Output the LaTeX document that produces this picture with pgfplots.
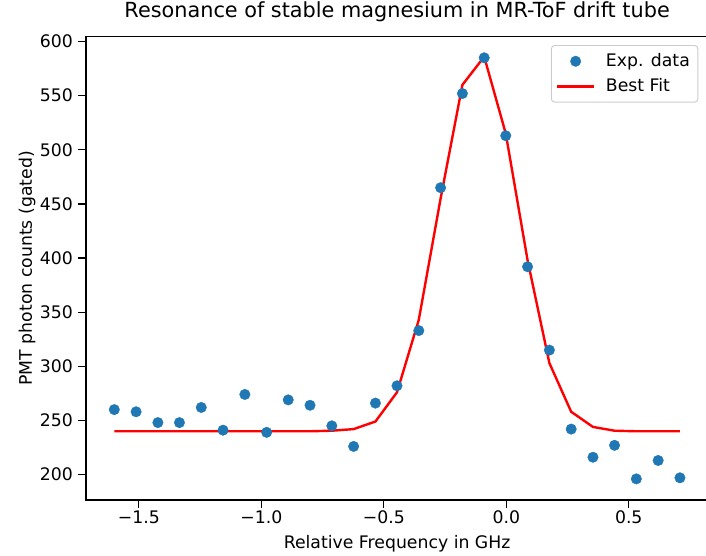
\documentclass[border=0pt]{standalone}
\usepackage{pgfplots}
\pgfplotsset{compat=1.18}
\usepackage{fontspec}
\setmainfont{DejaVu Sans}
\definecolor{tabblue}{HTML}{1F77B4}
\definecolor{legframe}{HTML}{CCCCCC}
\begin{document}
\begin{tikzpicture}
\begin{axis}[
  at={(0,0)}, anchor=south west,
  scale only axis,
  width=388.9pt, height=289.56pt,
  xmin=-1.7155, xmax=0.8245,
  ymin=176.5, ymax=604.5,
  axis line style={black, line width=0.8pt},
  tick style={black, line width=0.8pt},
  major tick length=5pt,
  tick align=outside,
  xtick pos=bottom, ytick pos=left,
  xtick={-1.5,-1.0,-0.5,0.0,0.5},
  xticklabels={−1.5,−1.0,−0.5,0.0,0.5},
  ytick={200,250,300,350,400,450,500,550,600},
  yticklabels={200,250,300,350,400,450,500,550,600},
  tick label style={font=\fontsize{10.8}{13}\selectfont},
  xticklabel style={anchor=north, inner sep=0pt, yshift=-1.5pt},
  yticklabel style={anchor=east, inner sep=0pt, xshift=-3pt},
  title={Resonance of stable magnesium in MR-ToF drift tube},
  title style={at={(axis description cs:0.5,1)}, anchor=base, yshift=6.25pt, inner sep=0pt, font=\fontsize{13}{15}\selectfont},
  xlabel={Relative Frequency in GHz},
  xlabel style={at={(axis description cs:0.5,-0.1036)}, anchor=base, inner sep=0pt, font=\fontsize{10.8}{13}\selectfont},
  ylabel={PMT photon counts (gated)},
  ylabel style={at={(axis description cs:-0.0869,0.5)}, anchor=base, inner sep=0pt, rotate=0, font=\fontsize{10.8}{13}\selectfont},
  legend style={at={(1,1)}, anchor=north east, xshift=-6.2pt, yshift=-5.2pt,
    draw=legframe, rounded corners=2pt, line width=0.6pt,
    font=\fontsize{10.8}{13}\selectfont, inner xsep=3pt, inner ysep=3pt,
    row sep=2pt, cells={anchor=west}},
  legend cell align=left,
]
\addplot[only marks, mark=*, mark size=3.3pt, color=tabblue, mark options={fill=tabblue, draw=tabblue, line width=0.2pt},
  legend image code/.code={\draw[mark=*, mark size=3.3pt, fill=tabblue, draw=tabblue, line width=0.2pt] plot coordinates {(0.4cm,0cm)}; \path (0cm,0cm) (0.97cm,0cm);}]
coordinates {
(-1.600,260) (-1.511,258) (-1.422,248) (-1.334,248) (-1.245,262) (-1.156,241)
(-1.067,274) (-0.978,239) (-0.890,269) (-0.801,264) (-0.712,245) (-0.623,226)
(-0.534,266) (-0.446,282) (-0.357,333) (-0.268,465) (-0.179,552) (-0.090,585)
(-0.002,513) (0.087,392) (0.176,315) (0.265,242) (0.354,216) (0.442,227)
(0.531,196) (0.620,213) (0.709,197)
};
\addlegendentry{Exp. data}
\addplot[red, line width=1.5pt, mark=none,
  legend image code/.code={\draw[red, line width=1.5pt] (0cm,0cm) -- (0.8cm,0cm); \path (0.97cm,0cm);}]
coordinates {
(-1.600,240) (-1.511,240) (-1.422,240) (-1.334,240) (-1.245,240) (-1.156,240)
(-1.067,240) (-0.978,240) (-0.890,240) (-0.801,240) (-0.712,240.5) (-0.623,242)
(-0.534,249) (-0.446,276) (-0.357,343) (-0.268,455) (-0.179,560) (-0.090,586)
(-0.002,515) (0.087,398) (0.176,303) (0.265,258) (0.354,244) (0.442,240.5)
(0.531,240) (0.620,240) (0.709,240)
};
\addlegendentry{Best Fit}
\end{axis}
\pgfresetboundingbox
\useasboundingbox (-53.75pt,-35pt) rectangle (387.5pt,312.5pt);
\end{tikzpicture}
\end{document}
